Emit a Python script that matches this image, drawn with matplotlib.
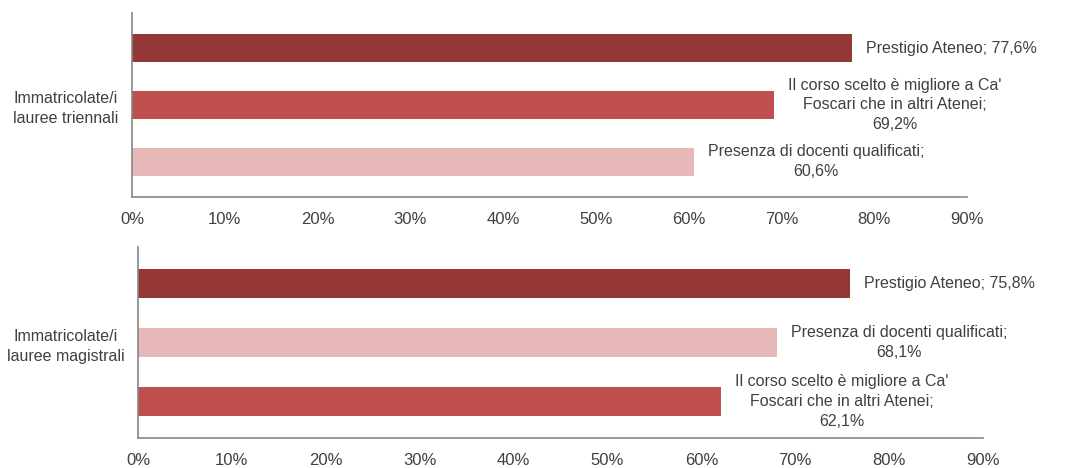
import matplotlib.pyplot as plt
from matplotlib.ticker import FuncFormatter

plt.rcParams['font.family'] = ['Liberation Sans', 'DejaVu Sans']

# Dati
gruppi = ["Immatricolate/i\nlauree triennali", "Immatricolate/i\nlauree magistrali"]

valori_tri = [77.6, 69.2, 60.6]
testi_tri = ["Prestigio Ateneo; 77,6%",
             "Il corso scelto è migliore a Ca'\nFoscari che in altri Atenei;\n69,2%",
             "Presenza di docenti qualificati;\n60,6%"]

valori_mag = [75.8, 68.1, 62.1]
testi_mag = ["Prestigio Ateneo; 75,8%",
             "Presenza di docenti qualificati;\n68,1%",
             "Il corso scelto è migliore a Ca'\nFoscari che in altri Atenei;\n62,1%"]

colori_tri = ['#953735', '#C0504D', '#E6B9B8']
colori_mag = ['#953735', '#E6B9B8', '#C0504D']

tick_vals = [0, 10, 20, 30, 40, 50, 60, 70, 80, 90]

fig = plt.figure(figsize=(10.73, 4.68), dpi=100)
ax1 = fig.add_axes([0.1230, 0.5791, 0.7782, 0.3932])
ax2 = fig.add_axes([0.1286, 0.0641, 0.7875, 0.4081])

text_col = '#404040'


def disegna(ax, valori, testi, colori, gruppo, pad_y):
    pos = [2, 1, 0]
    ax.barh(pos, valori, height=0.5, color=colori)
    for p, v, t in zip(pos, valori, testi):
        ax.annotate(t, xy=(v, p), xytext=(10, 0), textcoords='offset points',
                    ha='left', va='center', multialignment='center',
                    fontsize=11.5, color=text_col, linespacing=1.4)
    ax.set_xlim(0, 90)
    ax.set_ylim(-0.62, 2.62)
    ax.set_xticks(tick_vals)
    ax.xaxis.set_major_formatter(FuncFormatter(lambda x, _: f"{x:.0f}%"))
    ax.tick_params(axis='x', length=0, pad=11, labelsize=12, labelcolor=text_col)
    ax.set_yticks([1])
    ax.set_yticklabels([gruppo], fontsize=11.5, color=text_col, ha='center',
                       multialignment='center', linespacing=1.4)
    ax.tick_params(axis='y', length=0, pad=pad_y)
    for s in ['top', 'right']:
        ax.spines[s].set_visible(False)
    for s in ['left', 'bottom']:
        ax.spines[s].set_color('#868686')
        ax.spines[s].set_linewidth(1.2)


disegna(ax1, valori_tri, testi_tri, colori_tri, gruppi[0], 48)
disegna(ax2, valori_mag, testi_mag, colori_mag, gruppi[1], 52)

fig.savefig('out.png', dpi=100)
